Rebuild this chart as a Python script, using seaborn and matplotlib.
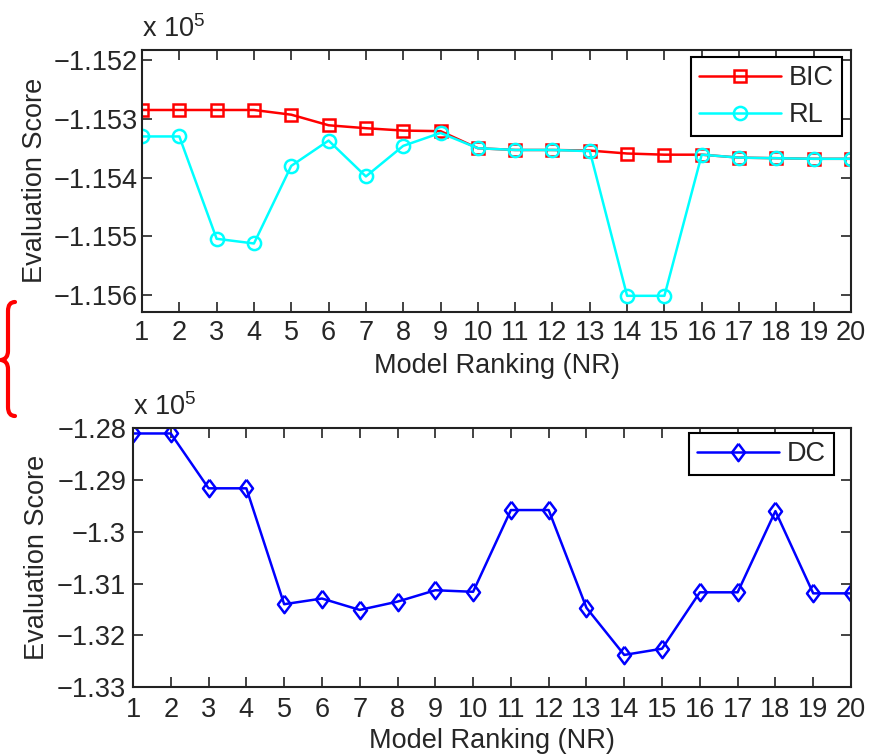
import numpy as np
import pandas as pd
import seaborn as sns
import matplotlib.pyplot as plt
from matplotlib.path import Path
from matplotlib.patches import PathPatch
from matplotlib.transforms import Affine2D

# Model ranking 1..20 ; scores in units of 1e5
ranking = list(range(1, 21))

bic = [-1.15285, -1.15285, -1.15285, -1.15285, -1.15293, -1.15311, -1.15316, -1.15320,
       -1.15321, -1.15350, -1.15353, -1.15353, -1.15354, -1.15359, -1.15361, -1.15361,
       -1.15366, -1.15367, -1.15368, -1.15368]
rl = [-1.15330, -1.15330, -1.15504, -1.15512, -1.15380, -1.15337, -1.15398, -1.15346,
      -1.15324, -1.15350, -1.15353, -1.15353, -1.15355, -1.15601, -1.15601, -1.15361,
      -1.15366, -1.15367, -1.15368, -1.15368]
dc = [-1.2810, -1.2810, -1.2916, -1.2916, -1.3140, -1.3129, -1.3151, -1.3135, -1.3113,
      -1.3116, -1.2958, -1.2958, -1.3147, -1.3238, -1.3226, -1.3117, -1.3117, -1.2960,
      -1.3119, -1.3119]

top_ticks = [-1.152, -1.153, -1.154, -1.155, -1.156]
top_labels = ["\u22121.152", "\u22121.153", "\u22121.154", "\u22121.155", "\u22121.156"]
bot_ticks = [-1.28, -1.29, -1.30, -1.31, -1.32, -1.33]
bot_labels = ["\u22121.28", "\u22121.29", "\u22121.3", "\u22121.31", "\u22121.32", "\u22121.33"]

df = pd.DataFrame({"NR": ranking, "BIC": bic, "RL": rl, "DC": dc})

sns.set_style("ticks")
plt.rcParams["font.family"] = ["Liberation Sans", "DejaVu Sans"]
plt.rcParams["mathtext.fontset"] = "custom"
plt.rcParams["mathtext.rm"] = "Liberation Sans"
plt.rcParams["mathtext.it"] = "Liberation Sans"

txt = "#262626"
fs = 19.5

fig = plt.figure(figsize=(8.76, 7.55), dpi=100)
W, H = 876, 755
ax1 = fig.add_axes([142 / W, (H - 311.7) / H, (851 - 142) / W, (311.7 - 50) / H])
ax2 = fig.add_axes([133 / W, (H - 687) / H, (851 - 133) / W, (687 - 428.3) / H])

sns.lineplot(data=df, x="NR", y="BIC", ax=ax1, color="red", marker="s", markersize=8.5,
             markerfacecolor="none", markeredgecolor="red", markeredgewidth=1.8,
             linewidth=1.8, label="BIC")
sns.lineplot(data=df, x="NR", y="RL", ax=ax1, color="cyan", marker="o", markersize=9.5,
             markerfacecolor="none", markeredgecolor="cyan", markeredgewidth=1.8,
             linewidth=1.8, label="RL")

diamond = [(0, 1), (0.75, 0), (0, -1), (-0.75, 0), (0, 1)]
sns.lineplot(data=df, x="NR", y="DC", ax=ax2, color="blue", marker=diamond, markersize=12.5,
             markerfacecolor="none", markeredgecolor="blue", markeredgewidth=1.8,
             linewidth=1.8, label="DC")

settings = [
    (ax1, top_ticks, top_labels, (-1.15628, -1.15183), 3, 6, 5, 4, (0.987, 0.973)),
    (ax2, bot_ticks, bot_labels, (-1.33, -1.28), 5, 7, 4, 5, (0.976, 0.982)),
]
for ax, ticks, labels, ylim, ypad, xpad, xlp, ylp, anchor in settings:
    ax.set_xlim(1, 20)
    ax.set_ylim(*ylim)
    ax.set_xticks(ranking)
    ax.set_yticks(ticks)
    ax.set_yticklabels(labels)
    ax.tick_params(direction="in", length=7, width=1.2, top=True, right=True,
                   labelsize=fs, labelcolor=txt, color="#222222")
    ax.tick_params(axis="y", pad=ypad)
    ax.tick_params(axis="x", pad=xpad)
    for s in ax.spines.values():
        s.set_linewidth(1.5)
        s.set_color("#222222")
    ax.set_xlabel("Model Ranking (NR)", fontsize=fs, color=txt, labelpad=xlp)
    ax.set_ylabel("Evaluation Score", fontsize=fs, color=txt, labelpad=ylp)
    leg = ax.legend(loc="upper right", bbox_to_anchor=anchor, fontsize=fs,
                    handlelength=3.0, fancybox=False, framealpha=1, edgecolor="black",
                    borderaxespad=0, handletextpad=0.3, labelspacing=0.4, borderpad=0.3)
    leg.get_frame().set_linewidth(1.5)
    for t in leg.get_texts():
        t.set_color(txt)

fig.text(142 / W, (H - 37) / H, r"x 10$^{5}$", fontsize=fs, color=txt, va="baseline")
fig.text(133 / W, (H - 415) / H, r"x 10$^{5}$", fontsize=fs, color=txt, va="baseline")

# red curly brace on the left margin (pixel coordinates, y from top)
pts = [(15, 302), (8, 302), (8, 311), (8, 311), (8, 351), (8, 359), (1, 360),
       (8, 361), (8, 369), (8, 369), (8, 407), (8, 416), (15, 416)]
codes = [Path.MOVETO, Path.CURVE3, Path.CURVE3, Path.LINETO, Path.LINETO,
         Path.CURVE3, Path.CURVE3, Path.CURVE3, Path.CURVE3, Path.LINETO, Path.LINETO,
         Path.CURVE3, Path.CURVE3]
brace = Path([(x, H - y) for x, y in pts], codes)
fig.patches.append(PathPatch(brace, transform=Affine2D().scale(1 / W, 1 / H) + fig.transFigure,
                             facecolor="none", edgecolor="red", linewidth=3,
                             capstyle="round", joinstyle="round"))

fig.savefig("out.png", dpi=100)
